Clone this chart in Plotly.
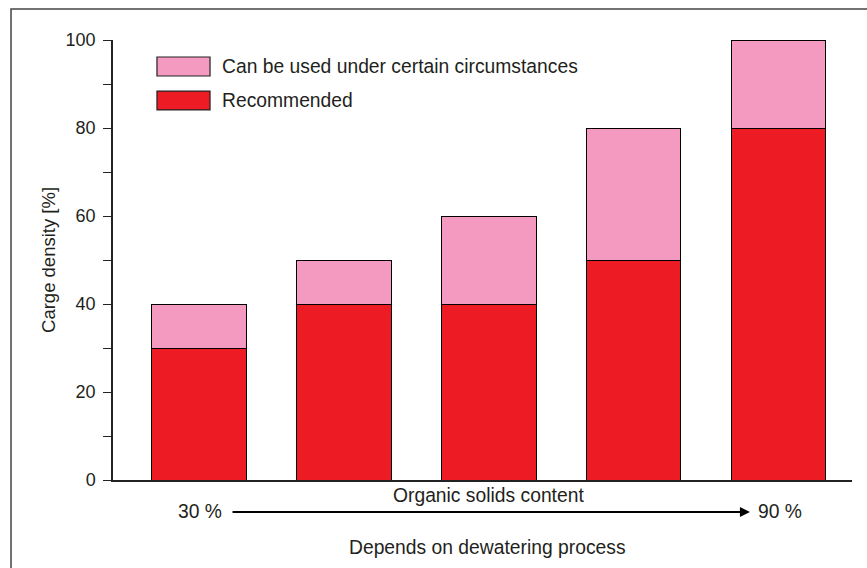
import plotly.graph_objects as go

categories = ["A", "B", "C", "D", "E"]
recommended = [30, 40, 40, 50, 80]
circumstances = [10, 10, 20, 30, 20]
legend_names = ["Can be used under certain circumstances", "Recommended"]
y_ticks = [0, 20, 40, 60, 80, 100]

PINK = "#f49ac1"
RED = "#ed1c24"
TXT = "#231f20"
FONT = "Liberation Sans, Arial, Helvetica, sans-serif"
TS = 19.3

fig = go.Figure()
fig.add_trace(go.Bar(x=list(range(len(categories))), y=recommended, name=legend_names[1],
                     marker=dict(color=RED, line=dict(color="#000", width=1)),
                     width=0.655, cliponaxis=False, showlegend=False))
fig.add_trace(go.Bar(x=list(range(len(categories))), y=circumstances, name=legend_names[0],
                     marker=dict(color=PINK, line=dict(color="#000", width=1)),
                     width=0.655, cliponaxis=False, showlegend=False))

fig.update_layout(
    barmode="stack",
    width=867, height=568,
    margin=dict(l=113, r=15, t=40, b=88),
    paper_bgcolor="white", plot_bgcolor="white",
    font=dict(family=FONT, size=TS, color=TXT),
    xaxis=dict(range=[-0.59, 4.507], showticklabels=False, ticks="", showgrid=False,
               zeroline=False, showline=True, linecolor="#222", linewidth=1.5),
    yaxis=dict(range=[0, 100], tickvals=y_ticks, ticks="outside", ticklen=8, tickwidth=1.2,
               tickcolor="#222", showgrid=False, zeroline=False, showline=True,
               linecolor="#222", linewidth=1.5, ticklabelstandoff=4,
               tickfont=dict(size=18),
               minor=dict(tickvals=[10, 30, 50, 70, 90], ticks="outside", ticklen=8,
                          tickwidth=1.2, tickcolor="#222", showgrid=False)),
)

# outer frame
fig.add_shape(type="rect", xref="paper", yref="paper", x0=-0.138, x1=1.05, y0=-0.25, y1=1.0705,
              line=dict(color="#444", width=1.5))

# custom legend
sw = [(0.9614, 0.9182, PINK, legend_names[0]), (0.884, 0.841, RED, legend_names[1])]
for y1, y0, col, name in sw:
    fig.add_shape(type="rect", xref="paper", yref="paper", x0=0.0595, x1=0.1313, y0=y0, y1=y1,
                  fillcolor=col, line=dict(color="#222", width=1.2))
    fig.add_annotation(xref="paper", yref="paper", x=0.1447, y=(y0 + y1) / 2, text=name,
                       showarrow=False, xanchor="left", yanchor="middle")

# y-axis title
fig.add_annotation(xref="paper", yref="paper", x=-0.088, y=0.5, text="Carge density [%]",
                   textangle=-90, showarrow=False, xanchor="center", yanchor="middle",
                   font=dict(size=18.5))

# bottom texts
fig.add_annotation(xref="paper", yref="paper", x=(488 - 113) / 739, y=-0.036,
                   text="Organic solids content", showarrow=False, xanchor="center", yanchor="middle")
fig.add_annotation(xref="paper", yref="paper", x=(200 - 113) / 739, y=-0.0705,
                   text="30 %", showarrow=False, xanchor="center", yanchor="middle")
fig.add_annotation(xref="paper", yref="paper", x=(780 - 113) / 739, y=-0.0705,
                   text="90 %", showarrow=False, xanchor="center", yanchor="middle")
fig.add_annotation(xref="paper", yref="paper", x=(487 - 113) / 739, y=-0.1545,
                   text="Depends on dewatering process", showarrow=False, xanchor="center",
                   yanchor="middle")
# arrow
fig.add_annotation(xref="x", yref="paper", x=3.803, y=-0.0727, axref="x", ayref="pixel",
                   ax=0.224, ay=0, text="", showarrow=True, arrowhead=2, arrowsize=1,
                   arrowwidth=2, arrowcolor="#000")

fig.write_html("out.html")
